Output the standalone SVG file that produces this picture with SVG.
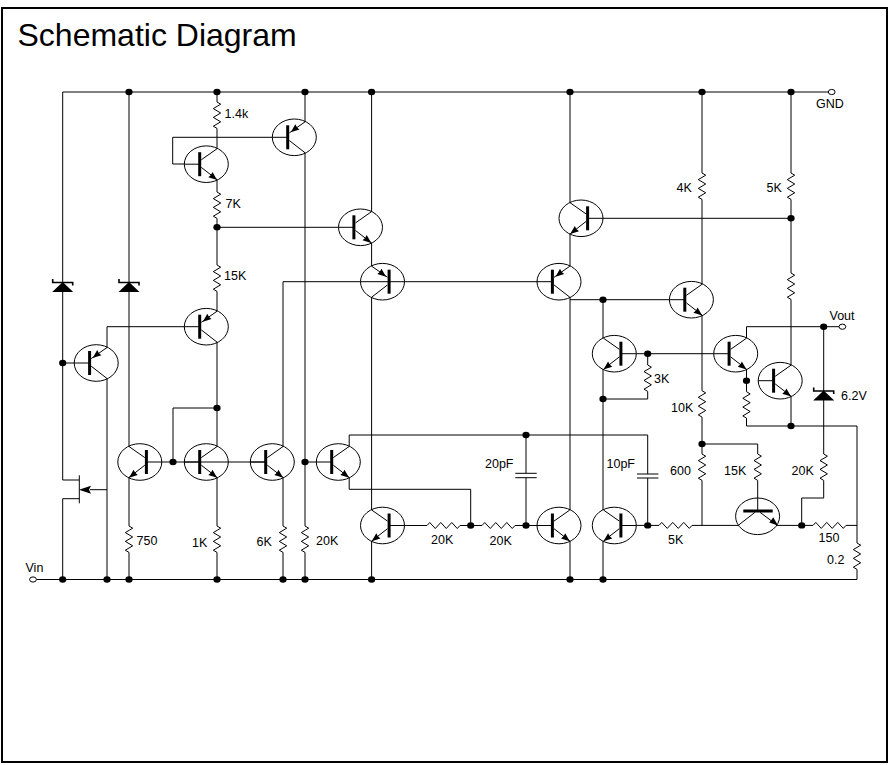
<svg xmlns="http://www.w3.org/2000/svg" width="890" height="765" viewBox="0 0 890 765">
<style>
.w{fill:none;stroke:#000;stroke-width:1}
.o{fill:none;stroke:#000;stroke-width:1}
.b{fill:none;stroke:#000;stroke-width:3}
.z{fill:none;stroke:#000;stroke-width:1.6}
.f{fill:#000;stroke:none}
.t{fill:#fff;stroke:#000;stroke-width:1}
text{font-family:"Liberation Sans",Arial,sans-serif;fill:#000}
.l{font-size:12.5px}
.h{font-size:32px}
</style>
<defs>
<g id="tr">
<ellipse class="o" cx="0" cy="0" rx="22" ry="18.3"/>
<path class="w" d="M-22,0H-6.6M-5,-4.4L10.8,-15.5M-5,3.2L10.8,15.5"/>
<path class="b" d="M-6.6,-12V12"/>
</g>
<g id="npn"><use href="#tr"/><polygon class="f" points="10.8,15.7 2,13 4.6,10.8 6.2,7.7"/></g>
<g id="pnp"><use href="#tr"/><polygon class="f" points="-3.5,-5 5.2,-7.8 2.8,-9.8 1,-13"/></g>
<polyline id="rv" class="w" points="0,0 3.7,2.2 -3.7,6.6 3.7,11 -3.7,15.4 3.7,19.8 -3.7,24.2 0,26.4"/>
<polyline id="rh" class="w" points="0,0 2.75,-3 8.25,3 13.75,-3 19.25,3 24.75,-3 30.25,3 33,0"/>
<g id="zn"><path class="z" d="M-10,-3V0.5H10V3.5"/><polygon class="f" points="0,0 -10.5,10 10.5,10"/></g>
<ellipse id="d" class="f" rx="3.6" ry="3.2"/>
<ellipse id="tm" class="t" rx="3.4" ry="2.6"/>
</defs>
<rect id="frame" x="2" y="8" width="885" height="754" fill="#fff" stroke="#000" stroke-width="2"/>
<text id="title" class="h" x="17.5" y="46">Schematic Diagram</text>

<g id="connectors">
<path class="w" d="M62.7,92H828M36.5,579.5H857
M62.7,92V282M62.7,292V480H79.3M79.3,498.7H62.7V579.5M62.7,363H74
M129,92V282M129,292V446.5M129,477.5V526M129,552.4V579.5
M107,347.5V326.7H184.5M107,378.5V579.5M107,489.7H90
M217,92V102M217,128.4V148.7M217,179.7V192M217,218.4V265M217,291.4V311.2M217,342.2V446.5M217,477.5V526M217,552.4V579.5
M272.3,137.3H172.7V164H184.5
M305,92V121.8M305,152.8V526M305,552.4V579.5
M217,227.3H338.3
M371.6,92V211.8M371.6,242.8V266.2M371.6,297.2V510M371.6,541V579.5
M283,446.5V281.7H389M404.5,281.7H537M283,477.5V526M283,552.4V579.5
M162,462H266M173,462V408H217M305,462H316.3
M349.2,446.5V435H647.7V474M647.7,478V525.4M349.2,477.5V489.3H470.7V525.5
M404.5,525.5H427M460,525.5H482M515,525.5H537M526,435V473.3M526,477.7V525.5
M570,92V202.8M570,233.8V266.2M570,297.2V510M570,541V579.5
M603,218.3H791M570,299.7H669.4M603,299.7V338.2M603,369.2V510M603,541V579.5
M636.3,353.7H713.8M647.7,353.7V365M647.7,391.4V399H603
M636.3,525.4H659M692,525.4H738.3
M702,92V173M702,199.4V284.2M702,315.2V390.7M702,417.1V454M702,480.4V525.4
M702,444H757.7V454M757.7,480.4V511
M776.7,525.4H813M846,525.4H857
M801.7,525.4V498H823.7V480.4M823.7,454V400M823.7,391V326.7
M746.5,338.2V326.7H839M746.5,369.2V391.7M746.5,418.1V426H857V543M857,569.4V579.5
M791,92V173M791,199.4V273M791,299.4V365.2M791,396.2V426"/>
</g>

<g id="Q1"><use href="#npn" transform="translate(206.3,164.2)"/></g>
<g id="Q2"><use href="#pnp" transform="translate(294.3,137.3)"/></g>
<g id="Q3"><use href="#pnp" transform="translate(206.3,326.7)"/></g>
<g id="Q4"><use href="#pnp" transform="translate(96.2,363)"/></g>
<g id="Q5"><use href="#npn" transform="translate(139.8,462) scale(-1,1)"/></g>
<g id="Q6"><use href="#npn" transform="translate(206.3,462)"/></g>
<g id="Q7"><use href="#npn" transform="translate(272.3,462)"/></g>
<g id="Q8"><use href="#npn" transform="translate(338.3,462)"/></g>
<g id="Q9"><use href="#npn" transform="translate(360.5,227.3)"/></g>
<g id="Q10"><use href="#pnp" transform="translate(382.5,281.7) scale(-1,1)"/></g>
<g id="Q11"><use href="#npn" transform="translate(382.5,525.5) scale(-1,1)"/></g>
<g id="Q12"><use href="#pnp" transform="translate(559,281.7)"/></g>
<g id="Q13"><use href="#npn" transform="translate(581,218.3) scale(-1,1)"/></g>
<g id="Q14"><use href="#npn" transform="translate(559,525.5)"/></g>
<g id="Q15"><use href="#npn" transform="translate(691.4,299.7)"/></g>
<g id="Q16"><use href="#npn" transform="translate(614.3,353.7) scale(-1,1)"/></g>
<g id="Q17"><use href="#npn" transform="translate(614.3,525.5) scale(-1,1)"/></g>
<g id="Q18"><use href="#npn" transform="translate(735.7,353.7)"/></g>
<g id="Q19"><use href="#npn" transform="translate(780.2,380.7)"/></g>
<g id="Q20">
<ellipse class="o" cx="757.6" cy="516.3" rx="22" ry="18.3"/>
<path class="w" d="M755,512.3L738.3,525.3M760,512.3L776.7,524.8"/>
<path class="b" d="M743.3,511H772.7"/>
<polygon class="f" points="778,525.6 769.2,522.5 771.4,520 773.2,517.3"/>
</g>
<g id="JFET">
<path class="w" d="M79.3,475.3V503.3"/>
<polygon class="f" points="79,489.7 91,485.7 89,489.7 91,493.7"/>
</g>

<g id="D1"><use href="#zn" x="62.7" y="282"/></g>
<g id="D2"><use href="#zn" x="129" y="282"/></g>
<g id="D3"><use href="#zn" x="823.7" y="390.5"/><text class="l" x="841" y="400">6.2V</text></g>

<g id="R1"><use href="#rv" x="217" y="102"/><text class="l" x="224.5" y="118">1.4k</text></g>
<g id="R2"><use href="#rv" x="217" y="192"/><text class="l" x="225.5" y="208">7K</text></g>
<g id="R3"><use href="#rv" x="217" y="265"/><text class="l" x="224" y="280">15K</text></g>
<g id="R4"><use href="#rv" x="129" y="526"/><text class="l" x="136.5" y="545">750</text></g>
<g id="R5"><use href="#rv" x="217" y="526"/><text class="l" x="192" y="547">1K</text></g>
<g id="R6"><use href="#rv" x="283" y="526"/><text class="l" x="256.5" y="546">6K</text></g>
<g id="R7"><use href="#rv" x="305" y="526"/><text class="l" x="316" y="545">20K</text></g>
<g id="R8"><use href="#rh" x="427" y="525.5"/><text class="l" x="431" y="544">20K</text></g>
<g id="R9"><use href="#rh" x="482" y="525.5"/><text class="l" x="489.5" y="545">20K</text></g>
<g id="R10"><use href="#rh" x="659" y="525.4"/><text class="l" x="668" y="544">5K</text></g>
<g id="R11"><use href="#rv" x="647.7" y="365"/><text class="l" x="654" y="383">3K</text></g>
<g id="R12"><use href="#rv" x="702" y="173"/><text class="l" x="676.5" y="192">4K</text></g>
<g id="R13"><use href="#rv" x="791" y="173"/><text class="l" x="766.5" y="192">5K</text></g>
<g id="R14"><use href="#rv" x="791" y="273"/></g>
<g id="R15"><use href="#rv" x="702" y="390.7"/><text class="l" x="671" y="412">10K</text></g>
<g id="R16"><use href="#rv" x="702" y="454"/><text class="l" x="670" y="475">600</text></g>
<g id="R17"><use href="#rv" x="757.7" y="454"/><text class="l" x="724" y="475">15K</text></g>
<g id="R18"><use href="#rv" x="823.7" y="454"/><text class="l" x="791.5" y="475">20K</text></g>
<g id="R19"><use href="#rv" x="746.5" y="391.7"/></g>
<g id="R20"><use href="#rh" x="813" y="525.4"/><text class="l" x="818.5" y="542">150</text></g>
<g id="R21"><use href="#rv" x="857" y="543"/><text class="l" x="827" y="564">0.2</text></g>

<g id="C1"><path class="w" d="M515.3,473.3H536.7M515.3,477.7H536.7"/><text class="l" x="485" y="468">20pF</text></g>
<g id="C2"><path class="w" d="M637,474H658.4M637,478H658.4"/><text class="l" x="606.5" y="467.7">10pF</text></g>

<g id="junctions">
<use href="#d" x="129" y="92"/><use href="#d" x="217" y="92"/><use href="#d" x="305" y="92"/><use href="#d" x="371.6" y="92"/><use href="#d" x="570" y="92"/><use href="#d" x="702" y="92"/><use href="#d" x="791" y="92"/>
<use href="#d" x="62.7" y="579.5"/><use href="#d" x="107" y="579.5"/><use href="#d" x="129" y="579.5"/><use href="#d" x="217" y="579.5"/><use href="#d" x="283" y="579.5"/><use href="#d" x="305" y="579.5"/><use href="#d" x="371.6" y="579.5"/><use href="#d" x="570" y="579.5"/><use href="#d" x="603" y="579.5"/>
<use href="#d" x="217" y="227.3"/><use href="#d" x="62.7" y="363"/><use href="#d" x="217" y="408"/><use href="#d" x="173" y="462"/><use href="#d" x="305" y="462"/>
<use href="#d" x="526" y="435"/><use href="#d" x="470.7" y="525.5"/><use href="#d" x="526" y="525.5"/><use href="#d" x="647.7" y="525.4"/><use href="#d" x="603" y="299.7"/><use href="#d" x="647.7" y="353.7"/><use href="#d" x="603" y="399"/>
<use href="#d" x="791" y="218.3"/><use href="#d" x="823.7" y="326.7"/><use href="#d" x="746.5" y="380.7"/><use href="#d" x="791" y="426"/><use href="#d" x="702" y="444"/><use href="#d" x="801.7" y="525.4"/>
</g>

<g id="GND"><use href="#tm" x="831.7" y="92"/><text class="l" x="816" y="108">GND</text></g>
<g id="Vout"><use href="#tm" x="842.4" y="326.7"/><text class="l" x="829.5" y="319.5">Vout</text></g>
<g id="Vin"><use href="#tm" x="33" y="579.5"/><text class="l" x="25.5" y="571.5">Vin</text></g>
</svg>
